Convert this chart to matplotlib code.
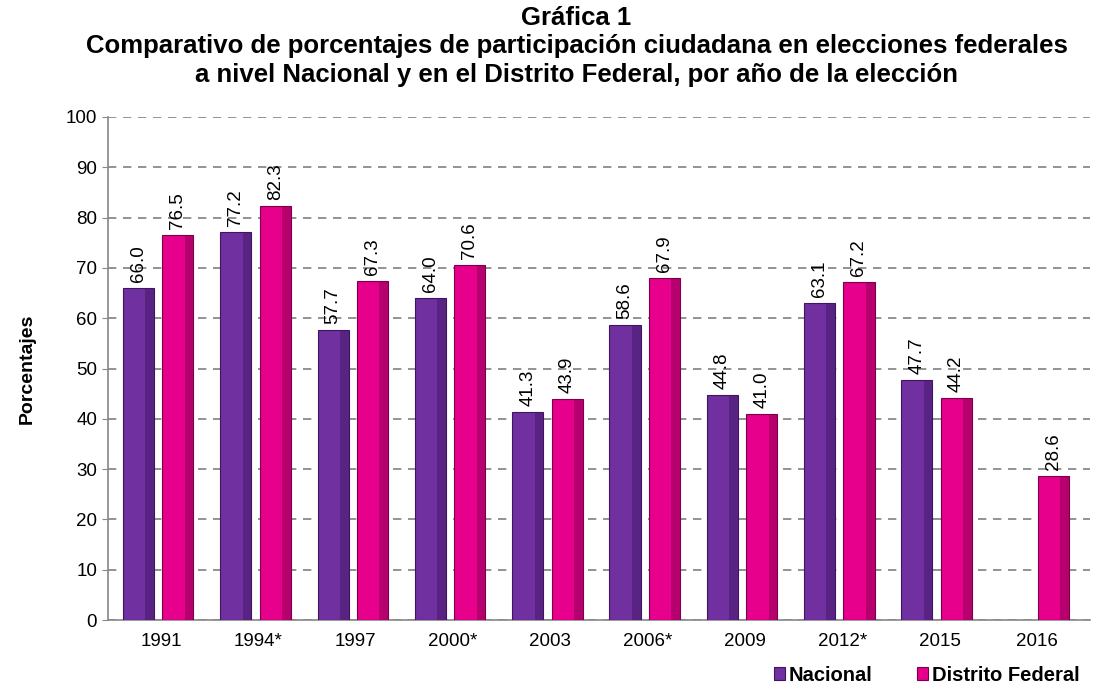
import matplotlib

matplotlib.use("Agg")

import matplotlib.pyplot as plt
import numpy as np

plt.rcParams["font.family"] = ["Liberation Sans", "DejaVu Sans"]

YEARS = ["1991", "1994*", "1997", "2000*", "2003", "2006*", "2009", "2012*", "2015", "2016"]
NACIONAL = [66.0, 77.2, 57.7, 64.0, 41.3, 58.6, 44.8, 63.1, 47.7, None]
DISTRITO = [76.5, 82.3, 67.3, 70.6, 43.9, 67.9, 41.0, 67.2, 44.2, 28.6]

PURPLE = "#7030A0"
MAGENTA = "#E6008C"

figure = plt.figure(figsize=(10.98, 6.96), dpi=100)
axis = figure.add_axes([0.098, 0.109, 0.895, 0.723])

positions = np.arange(len(YEARS))
width = 0.32
gap = 0.085


def draw(values, offset, color, dark, label):
    xs = [p + offset for p, v in zip(positions, values) if v is not None]
    ys = [v for v in values if v is not None]
    bars = axis.bar(xs, ys, width, color=color, edgecolor=dark, linewidth=0.8,
                    label=label, zorder=3)
    # shaded right edge to hint at the bevel
    axis.bar([x + width * 0.36 for x in xs], ys, width * 0.28, color=dark,
             alpha=0.45, linewidth=0, zorder=3.5)
    for x, y in zip(xs, ys):
        axis.text(x, y + 1.2, "%.1f" % y, rotation=90, ha="center", va="bottom",
                  fontsize=13.5, zorder=4)
    return bars


draw(NACIONAL, -(width + gap) / 2 - 0.03, PURPLE, "#3E1560", "Nacional")
draw(DISTRITO, (width + gap) / 2 - 0.03, MAGENTA, "#7A004A", "Distrito Federal")

axis.set_xlim(-0.55, len(YEARS) - 0.45)
axis.set_ylim(0, 100)
axis.set_yticks(np.arange(0, 101, 10))
axis.set_xticks(positions)
axis.set_xticklabels(YEARS, fontsize=13.5)
axis.tick_params(axis="y", labelsize=13.5, length=4, color="#888888")
axis.tick_params(axis="x", length=0, pad=9)
axis.grid(True, axis="y", linestyle=(0, (5, 4)), color="#808080", linewidth=1.2, zorder=0)
for side in ("top", "right"):
    axis.spines[side].set_visible(False)
for side in ("left", "bottom"):
    axis.spines[side].set_color("#888888")
    axis.spines[side].set_linewidth(1.2)

axis.set_ylabel("Porcentajes", fontsize=14, fontweight="bold", labelpad=22)

figure.text(0.525, 0.992, "Gráfica 1\nComparativo de porcentajes de participación ciudadana en elecciones federales\n"
            "a nivel Nacional y en el Distrito Federal, por año de la elección",
            ha="center", va="top", fontsize=18.5, fontweight="bold", linespacing=1.25)

figure.legend(loc="lower right", bbox_to_anchor=(1.0, -0.01), ncol=2, frameon=False,
              prop={"weight": "bold", "size": 14.5}, handlelength=0.55, handleheight=0.6,
              columnspacing=2.2, handletextpad=0.2)

figure.savefig("out.png", dpi=100)
